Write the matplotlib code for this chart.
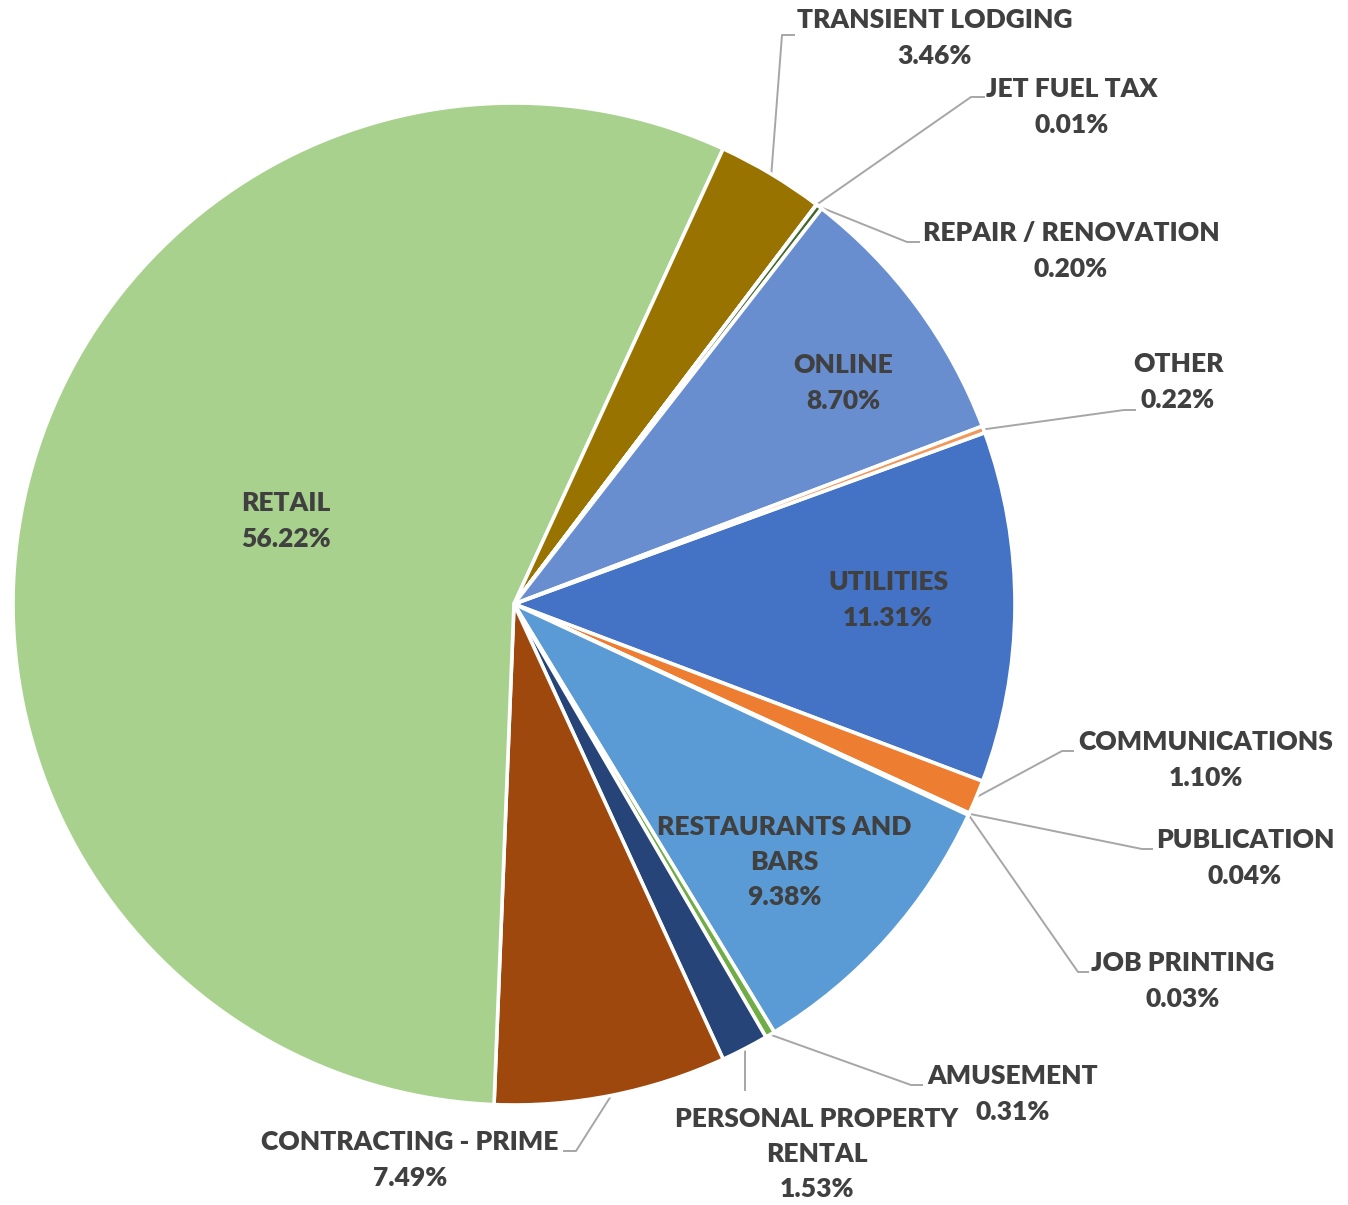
import numpy as np
import matplotlib
matplotlib.use("Agg")
import matplotlib.pyplot as plt

labels = ["UTILITIES", "COMMUNICATIONS", "PUBLICATION", "JOB PRINTING",
          "RESTAURANTS AND\nBARS", "AMUSEMENT", "PERSONAL PROPERTY\nRENTAL",
          "CONTRACTING - PRIME", "RETAIL", "TRANSIENT LODGING", "JET FUEL TAX",
          "REPAIR / RENOVATION", "ONLINE", "OTHER"]
values = [11.31, 1.10, 0.04, 0.03, 9.38, 0.31, 1.53, 7.49, 56.22, 3.46, 0.01,
          0.20, 8.70, 0.22]
colors = ["#4472C4", "#ED7D31", "#A5A5A5", "#FFC000", "#5B9BD5", "#70AD47",
          "#264478", "#9E480E", "#A9D18E", "#997300", "#255E91", "#43682B",
          "#698ED0", "#F1975A"]

# layout (pixel coordinates, y downwards)
W, H = 1348, 1205
CX, CY, R = 514, 604, 501
FIRST_ANGLE = 70  # degrees clockwise from 12 o'clock

# label centres and leader elbows; None elbow = inside label
label_pos = {
    "UTILITIES": ((888, 600), None),
    "COMMUNICATIONS": ((1206, 760), (1062, 751)),
    "PUBLICATION": ((1245, 858), (1142, 849)),
    "JOB PRINTING": ((1183, 981), (1078, 972)),
    "RESTAURANTS AND\nBARS": ((784, 862), None),
    "AMUSEMENT": ((1013, 1094), (911, 1085)),
    "PERSONAL PROPERTY\nRENTAL": ((817, 1154), None),
    "CONTRACTING - PRIME": ((410, 1160), (576, 1151)),
    "RETAIL": ((286, 521), None),
    "TRANSIENT LODGING": ((935, 38), (782, 35)),
    "JET FUEL TAX": ((1072, 107), (971, 97)),
    "REPAIR / RENOVATION": ((1071, 251), (907, 242)),
    "ONLINE": ((843, 383), None),
    "OTHER": ((1178, 382), (1124, 410)),
}
hook = {  # end of short horizontal segment
    "COMMUNICATIONS": 1074, "PUBLICATION": 1153, "JOB PRINTING": 1089,
    "AMUSEMENT": 923, "CONTRACTING - PRIME": 563, "TRANSIENT LODGING": 795,
    "JET FUEL TAX": 985, "REPAIR / RENOVATION": 920, "OTHER": 1136,
}

plt.rcParams['font.family'] = ['Lato', 'DejaVu Sans']
fig = plt.figure(figsize=(W / 100, H / 100), dpi=100)
ax = fig.add_axes([0, 0, 1, 1])

wedges, _ = ax.pie(values, colors=colors, center=(CX, CY), radius=R,
                   startangle=-90 + FIRST_ANGLE, counterclock=True,
                   wedgeprops=dict(edgecolor="white", linewidth=2.6))
ax.set_xlim(0, W)
ax.set_ylim(H, 0)
ax.set_aspect("equal")
ax.axis("off")

TXT = "#404040"
LINE = "#A6A6A6"
for w, lab, v in zip(wedges, labels, values):
    (tx, ty), elbow = label_pos[lab]
    txt = f"{lab}\n{v:.2f}%"
    ax.text(tx, ty, txt, ha="center", va="center", fontsize=19,
            fontweight="heavy", color=TXT, linespacing=1.56)
    mid = np.deg2rad((w.theta1 + w.theta2) / 2)
    sx, sy = CX + R * np.cos(mid), CY + R * np.sin(mid)
    if elbow is not None:
        ex, ey = elbow
        ax.plot([sx, ex, hook[lab]], [sy, ey, ey], color=LINE, lw=1.4,
                solid_capstyle="butt", zorder=0.5)
    elif lab.startswith("PERSONAL"):
        ax.plot([sx, sx], [sy, 1090], color=LINE, lw=1.4, zorder=0.5)

fig.savefig("out.png", dpi=100, facecolor="white")
